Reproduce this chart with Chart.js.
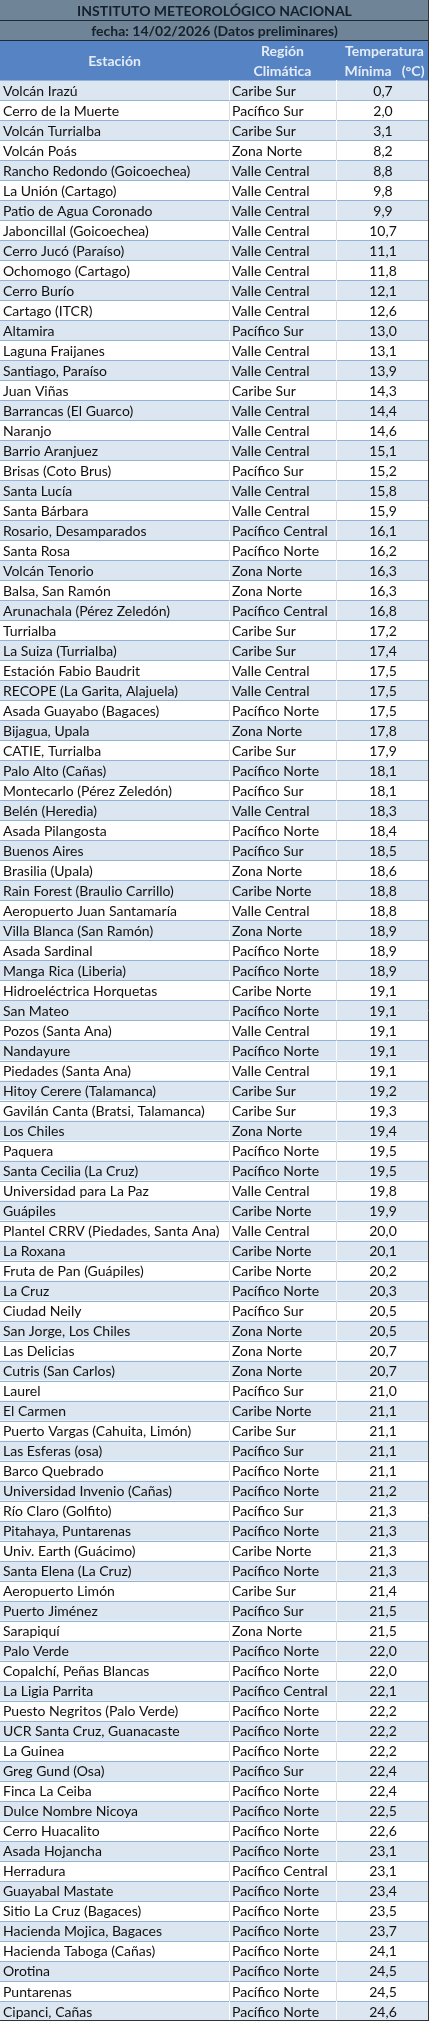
<!DOCTYPE html>
<html><head><meta charset="utf-8">
<script src="https://cdn.jsdelivr.net/npm/chart.js@4"></script>
<style>html,body{margin:0;padding:0;background:#fff}#wrap{width:429px;height:2021px;position:relative}</style>
</head><body><div id="wrap"><canvas id="c"></canvas></div>
<script>
const title = "INSTITUTO METEOROLÓGICO NACIONAL";
const subtitle = "fecha: 14/02/2026 (Datos preliminares)";
const headers = ["Estación", ["Región", "Climática"], ["Temperatura", "Mínima   (°C)"]];
const stations = ["Volcán Irazú","Cerro de la Muerte","Volcán Turrialba","Volcán Poás","Rancho Redondo (Goicoechea)","La Unión (Cartago)","Patio de Agua Coronado","Jaboncillal (Goicoechea)","Cerro Jucó (Paraíso)","Ochomogo (Cartago)","Cerro Burío","Cartago (ITCR)","Altamira","Laguna Fraijanes","Santiago, Paraíso","Juan Viñas",
"Barrancas (El Guarco)","Naranjo","Barrio Aranjuez","Brisas (Coto Brus)","Santa Lucía","Santa Bárbara","Rosario, Desamparados","Santa Rosa","Volcán Tenorio","Balsa, San Ramón","Arunachala (Pérez Zeledón)","Turrialba","La Suiza (Turrialba)","Estación Fabio Baudrit","RECOPE (La Garita, Alajuela)","Asada Guayabo (Bagaces)",
"Bijagua, Upala","CATIE, Turrialba","Palo Alto (Cañas)","Montecarlo (Pérez Zeledón)","Belén (Heredia)","Asada Pilangosta","Buenos Aires","Brasilia (Upala)","Rain Forest (Braulio Carrillo)","Aeropuerto Juan Santamaría","Villa Blanca (San Ramón)","Asada Sardinal","Manga Rica (Liberia)","Hidroeléctrica Horquetas","San Mateo","Pozos (Santa Ana)",
"Nandayure","Piedades (Santa Ana)","Hitoy Cerere (Talamanca)","Gavilán Canta (Bratsi, Talamanca)","Los Chiles","Paquera","Santa Cecilia (La Cruz)","Universidad para La Paz","Guápiles","Plantel CRRV (Piedades, Santa Ana)","La Roxana","Fruta de Pan (Guápiles)","La Cruz","Ciudad Neily","San Jorge, Los Chiles","Las Delicias",
"Cutris (San Carlos)","Laurel","El Carmen","Puerto Vargas (Cahuita, Limón)","Las Esferas (osa)","Barco Quebrado","Universidad Invenio (Cañas)","Río Claro (Golfito)","Pitahaya, Puntarenas","Univ. Earth (Guácimo)","Santa Elena (La Cruz)","Aeropuerto Limón","Puerto Jiménez","Sarapiquí","Palo Verde","Copalchí, Peñas Blancas",
"La Ligia Parrita","Puesto Negritos (Palo Verde)","UCR Santa Cruz, Guanacaste","La Guinea","Greg Gund (Osa)","Finca La Ceiba","Dulce Nombre Nicoya","Cerro Huacalito","Asada Hojancha","Herradura","Guayabal Mastate","Sitio La Cruz (Bagaces)","Hacienda Mojica, Bagaces","Hacienda Taboga (Cañas)","Orotina","Puntarenas","Cipanci, Cañas"];
const regions = ["Caribe Sur","Pacífico Sur","Caribe Sur","Zona Norte","Valle Central","Valle Central","Valle Central","Valle Central","Valle Central","Valle Central","Valle Central","Valle Central","Pacífico Sur","Valle Central","Valle Central","Caribe Sur",
"Valle Central","Valle Central","Valle Central","Pacífico Sur","Valle Central","Valle Central","Pacífico Central","Pacífico Norte","Zona Norte","Zona Norte","Pacífico Central","Caribe Sur","Caribe Sur","Valle Central","Valle Central","Pacífico Norte",
"Zona Norte","Caribe Sur","Pacífico Norte","Pacífico Sur","Valle Central","Pacífico Norte","Pacífico Sur","Zona Norte","Caribe Norte","Valle Central","Zona Norte","Pacífico Norte","Pacífico Norte","Caribe Norte","Pacífico Norte","Valle Central",
"Pacífico Norte","Valle Central","Caribe Sur","Caribe Sur","Zona Norte","Pacífico Norte","Pacífico Norte","Valle Central","Caribe Norte","Valle Central","Caribe Norte","Caribe Norte","Pacífico Norte","Pacífico Sur","Zona Norte","Zona Norte",
"Zona Norte","Pacífico Sur","Caribe Norte","Caribe Sur","Pacífico Sur","Pacífico Norte","Pacífico Norte","Pacífico Sur","Pacífico Norte","Caribe Norte","Pacífico Norte","Caribe Sur","Pacífico Sur","Zona Norte","Pacífico Norte","Pacífico Norte",
"Pacífico Central","Pacífico Norte","Pacífico Norte","Pacífico Norte","Pacífico Sur","Pacífico Norte","Pacífico Norte","Pacífico Norte","Pacífico Norte","Pacífico Central","Pacífico Norte","Pacífico Norte","Pacífico Norte","Pacífico Norte","Pacífico Norte","Pacífico Norte","Pacífico Norte"];
const temps = [0.7,2.0,3.1,8.2,8.8,9.8,9.9,10.7,11.1,11.8,12.1,12.6,13.0,13.1,13.9,14.3,
14.4,14.6,15.1,15.2,15.8,15.9,16.1,16.2,16.3,16.3,16.8,17.2,17.4,17.5,17.5,17.5,
17.8,17.9,18.1,18.1,18.3,18.4,18.5,18.6,18.8,18.8,18.9,18.9,18.9,19.1,19.1,19.1,
19.1,19.1,19.2,19.3,19.4,19.5,19.5,19.8,19.9,20.0,20.1,20.2,20.3,20.5,20.5,20.7,
20.7,21.0,21.1,21.1,21.1,21.1,21.2,21.3,21.3,21.3,21.3,21.4,21.5,21.5,22.0,22.0,
22.1,22.2,22.2,22.2,22.4,22.4,22.5,22.6,23.1,23.1,23.4,23.5,23.7,24.1,24.5,24.5,24.6];

const X1 = 229, X2 = 336, W = 429;
const FONT = "Lato, 'Open Sans', sans-serif";
const tablePlugin = {
  id: 'table',
  afterDraw(chart) {
    const ctx = chart.ctx, y = chart.scales.y;
    const rowH = Math.abs(y.getPixelForValue(1) - y.getPixelForValue(0));
    ctx.save();
    // header band
    ctx.fillStyle = '#6f8597'; ctx.fillRect(0, 0, W, 40);
    ctx.fillStyle = '#5683c3'; ctx.fillRect(0, 40, W, 40);
    ctx.strokeStyle = '#1e2a36'; ctx.lineWidth = 1;
    [20.5, 40.5].forEach(v => { ctx.beginPath(); ctx.moveTo(0, v); ctx.lineTo(W, v); ctx.stroke(); });
    ctx.textBaseline = 'middle'; ctx.textAlign = 'center';
    ctx.fillStyle = '#15202c'; ctx.font = "bold 14px " + FONT;
    ctx.fillText(title, W / 2, 11);
    ctx.fillText(subtitle, W / 2, 31);
    ctx.fillStyle = '#e3ecf7';
    ctx.fillText(headers[0], X1 / 2, 61);
    ctx.fillText(headers[1][0], (X1 + X2) / 2, 51);
    ctx.fillText(headers[1][1], (X1 + X2) / 2, 71);
    ctx.fillText(headers[2][0], (X2 + W) / 2 + 2, 51);
    ctx.fillText(headers[2][1], (X2 + W) / 2 + 2, 71);
    // rows
    stations.forEach((s, i) => {
      const cy = y.getPixelForValue(i);
      const top = cy - rowH / 2;
      ctx.fillStyle = i % 2 === 0 ? '#dce6f1' : '#ffffff';
      ctx.fillRect(0, top, W, rowH);
      ctx.strokeStyle = '#95b3d7';
      ctx.beginPath(); ctx.moveTo(0, Math.round(top) + 0.5); ctx.lineTo(W, Math.round(top) + 0.5); ctx.stroke();
      ctx.strokeStyle = i % 2 === 0 ? '#ffffff' : '#dcdcdc';
      [X1, X2].forEach(x => { ctx.beginPath(); ctx.moveTo(x + 0.5, top); ctx.lineTo(x + 0.5, top + rowH); ctx.stroke(); });
      ctx.fillStyle = '#111'; ctx.font = "14px " + FONT;
      ctx.textAlign = 'left';
      ctx.fillText(s, 3, cy + 1);
      ctx.fillText(regions[i], X1 + 3, cy + 1);
      ctx.textAlign = 'center';
      ctx.fillText(temps[i].toFixed(1).replace('.', ','), 383, cy + 1);
    });
    ctx.strokeStyle = '#333';
    ctx.beginPath(); ctx.moveTo(W - 0.5, 0); ctx.lineTo(W - 0.5, 2021); ctx.moveTo(0, 2020.5); ctx.lineTo(W, 2020.5); ctx.stroke();
    ctx.restore();
  }
};
new Chart(document.getElementById('c'), {
  type: 'bar',
  data: { labels: stations, datasets: [{ data: temps, backgroundColor: 'rgba(0,0,0,0)' }] },
  options: {
    indexAxis: 'y', responsive: true, maintainAspectRatio: false, animation: false,
    layout: { padding: { top: 80, bottom: 0, left: 0, right: 0 } },
    plugins: { legend: { display: false }, tooltip: { enabled: false } },
    scales: {
      y: { type: 'category', display: false, offset: true },
      x: { display: false, min: 0, max: 30 }
    }
  },
  plugins: [tablePlugin]
});
</script></body></html>
